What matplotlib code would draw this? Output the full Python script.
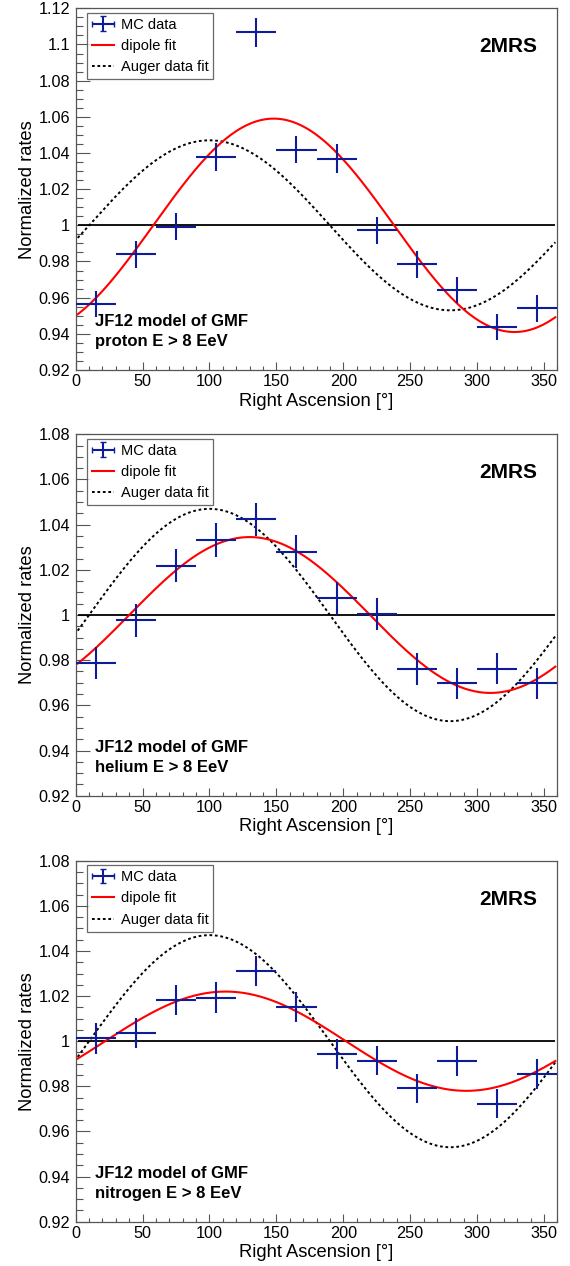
import numpy as np
import matplotlib
matplotlib.use('Agg')
import matplotlib.pyplot as plt
from matplotlib.ticker import MultipleLocator, FuncFormatter
from matplotlib.lines import Line2D
from matplotlib.legend_handler import HandlerErrorbar

plt.rcParams['font.family'] = ['Liberation Sans', 'DejaVu Sans']

# bin centres in right ascension (30 deg bins)
ra_bins = [15, 45, 75, 105, 135, 165, 195, 225, 255, 285, 315, 345]
bin_halfwidth = 15

# MC normalized rates
proton_rates = [0.9567, 0.984, 0.9993, 1.0378, 1.1067, 1.0418, 1.0369, 0.9972, 0.9784, 0.9644, 0.9438, 0.9541]
proton_err = [0.0072, 0.0074, 0.0073, 0.0078, 0.008, 0.0076, 0.0078, 0.0074, 0.0073, 0.0072, 0.007, 0.0073]
helium_rates = [0.9787, 0.9977, 1.0218, 1.0332, 1.0423, 1.028, 1.0075, 1.0005, 0.9761, 0.9698, 0.9763, 0.9698]
helium_err = [0.0071, 0.0073, 0.0074, 0.0074, 0.0074, 0.0074, 0.0073, 0.0072, 0.0069, 0.0069, 0.007, 0.0069]
nitrogen_rates = [1.0012, 1.0037, 1.0181, 1.0193, 1.031, 1.015, 0.9944, 0.9914, 0.9791, 0.9911, 0.9723, 0.9856]
nitrogen_err = [0.0067, 0.0067, 0.0067, 0.0068, 0.0067, 0.0067, 0.0066, 0.0066, 0.0065, 0.0066, 0.0065, 0.0066]

# dipole fits 1 + amp*cos(RA - phase): (amp, phase in deg)
proton_fit = (0.059, 148)
helium_fit = (0.0345, 130)
nitrogen_fit = (0.022, 112)
auger_fit = (0.047, 100)

panels = [
    ('proton', proton_rates, proton_err, proton_fit, (0.92, 1.12)),
    ('helium', helium_rates, helium_err, helium_fit, (0.92, 1.08)),
    ('nitrogen', nitrogen_rates, nitrogen_err, nitrogen_fit, (0.92, 1.08)),
]

W, H = 570, 1266
L, R = 75.7, 557.3
frames = [(8.3, 370.0), (434.3, 795.7), (860.7, 1221.7)]

blue = '#0f1c99'
frame_col = '#555555'

fig = plt.figure(figsize=(W / 100, H / 100), dpi=100)

ra_fine = np.linspace(1.5, 358.5, 400)


def dipole(ra, fit):
    amp, phase = fit
    return 1 + amp * np.cos(np.radians(ra - phase))


for (name, rates, err, fit, ylim), (top, bottom) in zip(panels, frames):
    ax = fig.add_axes([L / W, 1 - bottom / H, (R - L) / W, (bottom - top) / H])

    ax.hlines(1.0, 1.5, 358.5, color='black', lw=1.3, zorder=2)
    ax.plot(ra_fine, dipole(ra_fine, auger_fit), color='black', lw=1.4,
            ls=(0, (1.4, 1.4)), zorder=3)
    ax.plot(ra_fine, dipole(ra_fine, fit), color='red', lw=1.5, zorder=4)
    ax.errorbar(ra_bins, rates, xerr=bin_halfwidth, yerr=err, fmt='none',
                ecolor=blue, elinewidth=1.5, capsize=0, zorder=5)

    ax.set_xlim(0, 360)
    ax.set_ylim(*ylim)
    ax.xaxis.set_major_locator(MultipleLocator(50))
    ax.xaxis.set_minor_locator(MultipleLocator(10))
    ax.yaxis.set_major_locator(MultipleLocator(0.02))
    ax.yaxis.set_minor_locator(MultipleLocator(0.005))
    ax.yaxis.set_major_formatter(FuncFormatter(lambda v, p: f'{round(v, 4):g}'))
    ax.xaxis.set_major_formatter(FuncFormatter(lambda v, p: f'{v:g}'))
    ax.tick_params(axis='both', which='both', direction='in', top=False, right=False,
                   labelsize=11.7, color=frame_col, width=0.8)
    ax.tick_params(axis='y', which='major', length=10, pad=4)
    ax.tick_params(axis='y', which='minor', length=5)
    ax.tick_params(axis='x', which='major', length=6, pad=3)
    ax.tick_params(axis='x', which='minor', length=3)
    for s in ax.spines.values():
        s.set_color(frame_col)
        s.set_linewidth(0.9)

    ax.set_xlabel('Right Ascension [°]', fontsize=13.2, labelpad=2.5)
    ax.set_ylabel('Normalized rates', fontsize=13.2, labelpad=1.5)

    # legend with capped errorbar handle
    proxy = ax.errorbar([np.nan], [np.nan], xerr=[1], yerr=[1], fmt='none',
                        ecolor=blue, elinewidth=1.5, capsize=2.5)
    handles = [proxy,
               Line2D([], [], color='red', lw=1.5),
               Line2D([], [], color='black', lw=1.4, ls=(0, (1.4, 1.4)))]
    leg = ax.legend(handles, ['MC data', 'dipole fit', 'Auger data fit'],
                    loc='upper left', bbox_to_anchor=(87 / W, 1 - (top + 4.4) / H),
                    bbox_transform=fig.transFigure, borderaxespad=0, fontsize=10.5,
                    frameon=True, fancybox=False, handlelength=1.5, handletextpad=0.45,
                    labelspacing=0.5, borderpad=0.35,
                    handler_map={type(proxy): HandlerErrorbar(xerr_size=0.75, yerr_size=0.5)})
    leg.get_frame().set_edgecolor('#444444')
    leg.get_frame().set_linewidth(0.9)

    fig.text(537.3 / W, 1 - (top + 38.4) / H, '2MRS', fontsize=15, fontweight='bold',
             ha='right', va='center')
    fig.text(95 / W, 1 - (bottom - 44) / H, 'JF12 model of GMF', fontsize=12,
             fontweight='bold', ha='left', va='baseline')
    fig.text(95 / W, 1 - (bottom - 24) / H, f'{name} E > 8 EeV', fontsize=12,
             fontweight='bold', ha='left', va='baseline')

fig.savefig('out.png', dpi=100)
